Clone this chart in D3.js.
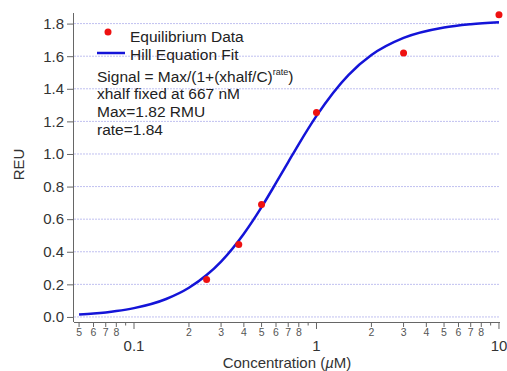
<!DOCTYPE html>
<html>
<head>
<meta charset="utf-8">
<script src="https://cdn.jsdelivr.net/npm/d3@7"></script>
<style>
  body { margin: 0; background: white; }
  text { font-family: "Liberation Sans", Arial, sans-serif; }
</style>
</head>
<body>
<div id="plot"></div>
<script>
// Hill equation fit of equilibrium binding data

// equilibrium data (concentration in uM, signal in REU)
const dataConc = [0.25, 0.375, 0.5, 1.0, 3.0, 10.0];
const dataSignal = [0.23, 0.445, 0.69, 1.255, 1.62, 1.855];

// fitted curve
const fitConc = [0.05, 0.06, 0.07, 0.08, 0.1, 0.15, 0.2, 0.25, 0.3, 0.4, 0.5, 0.6, 0.7, 0.8, 1.0, 1.5, 2, 3, 5, 7, 10];
const fitSignal = [0.015, 0.021, 0.028, 0.036, 0.054, 0.110, 0.179, 0.257, 0.340, 0.511, 0.674, 0.822, 0.950, 1.061, 1.234, 1.486, 1.607, 1.712, 1.776, 1.796, 1.808];

// tick labels
const yTicks = [0.0, 0.2, 0.4, 0.6, 0.8, 1.0, 1.2, 1.4, 1.6, 1.8];
const xMajor = [0.1, 1, 10];
const xMinor = [0.05, 0.06, 0.07, 0.08, 0.09, 0.2, 0.3, 0.4, 0.5, 0.6, 0.7, 0.8, 0.9, 2, 3, 4, 5, 6, 7, 8, 9];

// legend + annotation
const legendLabels = ["Equilibrium Data", "Hill Equation Fit"];
const noteLines = ["xhalf fixed at 667 nM", "Max=1.82 RMU", "rate=1.84"];

// dimensions
var margin = {top: 13, right: 7, bottom: 49, left: 74};
const width = 507 - margin.left - margin.right;
const height = 371 - margin.top - margin.bottom;

const svg = d3.select("#plot")
    .append("svg")
    .attr("width", 507)
    .attr("height", 371)
    .append("g")
    .attr("transform", `translate(${margin.left},${margin.top})`);

// scales
const x = d3.scaleLog().domain([0.0469, 10.13]).range([0, width]);
const y = d3.scaleLinear().domain([-0.031, 1.865]).range([height, 0]);

// leading digit of a minor tick (2..9)
const digit = d => Math.round(d / Math.pow(10, Math.floor(Math.log10(d) + 1e-9)));

// dotted horizontal grid
svg.selectAll(".grid")
    .data(yTicks)
    .enter().append("line")
    .attr("x1", 0)
    .attr("x2", width)
    .attr("y1", d => y(d))
    .attr("y2", d => y(d))
    .attr("stroke", "#c0c0f0")
    .attr("stroke-width", 1)
    .attr("stroke-dasharray", "2,1");

// y axis
const yAxis = svg.append("g")
    .call(d3.axisLeft(y).tickValues(yTicks).tickFormat(d3.format(".1f")).tickSize(7).tickPadding(3));
yAxis.select(".domain").attr("stroke", "#666").attr("d", `M-0.5,${height}V0`);
yAxis.selectAll(".tick line").attr("stroke", "#666");
yAxis.selectAll("text").attr("fill", "#333").style("font-size", "15px");

// x axis: plain line, then major and minor ticks
svg.append("line")
    .attr("x1", 0).attr("x2", width)
    .attr("y1", height + 0.5).attr("y2", height + 0.5)
    .attr("stroke", "#666");

svg.selectAll(".minor")
    .data(xMinor)
    .enter().append("line")
    .attr("x1", d => x(d)).attr("x2", d => x(d))
    .attr("y1", height)
    .attr("y2", d => height + (digit(d) === 9 ? 3.5 : 5))
    .attr("stroke", "#666");

svg.selectAll(".minorLabel")
    .data(xMinor.filter(d => digit(d) !== 9))
    .enter().append("text")
    .attr("x", d => x(d))
    .attr("y", height + 14)
    .attr("text-anchor", "middle")
    .style("font-size", "10.5px")
    .attr("fill", "#555")
    .text(d => digit(d));

svg.selectAll(".major")
    .data(xMajor)
    .enter().append("line")
    .attr("x1", d => x(d)).attr("x2", d => x(d))
    .attr("y1", height)
    .attr("y2", height + 7)
    .attr("stroke", "#666");

svg.selectAll(".majorLabel")
    .data(xMajor)
    .enter().append("text")
    .attr("x", d => x(d))
    .attr("y", height + 29)
    .attr("text-anchor", "middle")
    .style("font-size", "15px")
    .attr("fill", "#333")
    .text(d => d);

// axis titles
const xTitle = svg.append("text")
    .attr("x", width / 2)
    .attr("y", height + 46)
    .attr("text-anchor", "middle")
    .style("font-size", "15px")
    .attr("fill", "#333")
    .text("Concentration (");
xTitle.append("tspan").style("font-style", "italic").text("\u00b5");
xTitle.append("tspan").text("M)");

svg.append("text")
    .attr("transform", `translate(${-50},${height / 2 - 3}) rotate(-90)`)
    .attr("text-anchor", "middle")
    .style("font-size", "15px")
    .attr("fill", "#333")
    .text("REU");

// fit curve
const line = d3.line()
    .x((d, i) => x(fitConc[i]))
    .y(d => y(d))
    .curve(d3.curveMonotoneX);

svg.append("path")
    .datum(fitSignal)
    .attr("d", line)
    .attr("fill", "none")
    .attr("stroke", "#1414d8")
    .attr("stroke-width", 2.5);

// data points
svg.selectAll(".pt")
    .data(dataSignal)
    .enter().append("circle")
    .attr("cx", (d, i) => x(dataConc[i]))
    .attr("cy", d => y(d))
    .attr("r", 3.5)
    .attr("fill", "#ee1111");

// legend
const leg = svg.append("g").attr("transform", "translate(23,0)");
leg.append("circle").attr("cx", 11).attr("cy", 19).attr("r", 3.5).attr("fill", "#ee1111");
leg.append("line").attr("x1", 0).attr("x2", 28).attr("y1", 40).attr("y2", 40)
    .attr("stroke", "#1414d8").attr("stroke-width", 2.5);
leg.selectAll(".legText")
    .data(legendLabels)
    .enter().append("text")
    .attr("x", 33)
    .attr("y", (d, i) => 29 + i * 18)
    .style("font-size", "15.5px")
    .attr("fill", "#222")
    .text(d => d);

// equation + parameters
const eq = leg.append("text")
    .attr("x", 0)
    .attr("y", 69)
    .style("font-size", "15.5px")
    .attr("fill", "#222")
    .text("Signal = Max/(1+(xhalf/C)");
eq.append("tspan").attr("dy", -7).style("font-size", "9px").text("rate");
eq.append("tspan").attr("dy", 7).text(")");

leg.selectAll(".note")
    .data(noteLines)
    .enter().append("text")
    .attr("x", 0)
    .attr("y", (d, i) => 86 + i * 18)
    .style("font-size", "15.5px")
    .attr("fill", "#222")
    .text(d => d);
</script>
</body>
</html>
